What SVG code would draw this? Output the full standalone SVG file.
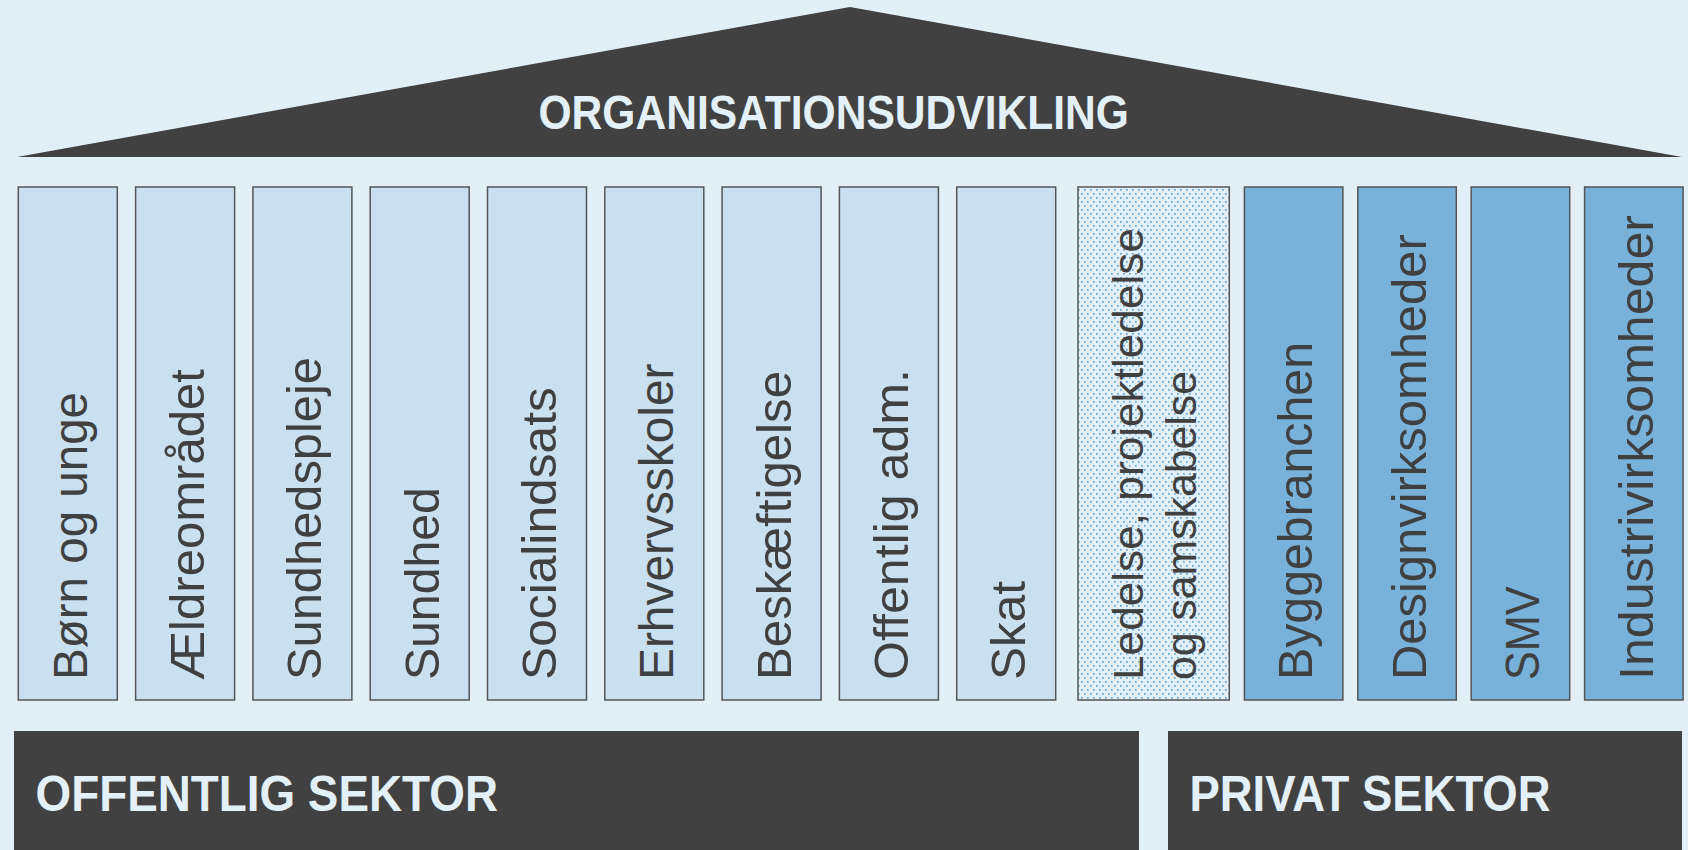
<svg xmlns="http://www.w3.org/2000/svg" width="1688" height="850" viewBox="0 0 1688 850">
<defs>
<pattern id="dots" width="6" height="8" patternUnits="userSpaceOnUse">
<rect width="6" height="8" fill="#e3eff7"/>
<rect x="1" y="1" width="1.7" height="1.7" fill="#5fa8dc"/>
<rect x="4" y="5" width="1.7" height="1.7" fill="#5fa8dc"/>
</pattern>
</defs>
<style>
.bg{fill:#e3eff7}
.dark{fill:#414141}
.pub{fill:#c9e0f0;stroke:#555;stroke-width:1.5}
.priv{fill:#78b2db;stroke:#555;stroke-width:1.5}
.dot{fill:url(#dots);stroke:#555;stroke-width:1.5}
.lbl{font-family:"Liberation Sans",Arial,sans-serif;font-size:48px;fill:#404040}
.lbl2{font-family:"Liberation Sans",Arial,sans-serif;font-size:42px;fill:#404040}
.head{font-family:"Liberation Sans",Arial,sans-serif;font-weight:bold;fill:#e4f0f8}
</style>
<rect class="bg" x="0" y="0" width="1688" height="850"/>
<g id="roof">
<polygon class="dark" points="850,7 1682,157 17,157"/>
<text class="head" x="538.4" y="129.3" font-size="48" textLength="590.6" lengthAdjust="spacingAndGlyphs">ORGANISATIONSUDVIKLING</text>
</g>
<g id="col-born">
<rect class="pub" x="18.3" y="187" width="99" height="513"/>
<text class="lbl" transform="translate(86.8,680) rotate(-90)" textLength="288" lengthAdjust="spacingAndGlyphs">Børn og unge</text>
</g>
<g id="col-aeldre">
<rect class="pub" x="135.6" y="187" width="99" height="513"/>
<text class="lbl" transform="translate(204.1,680) rotate(-90)" textLength="311" lengthAdjust="spacingAndGlyphs">Ældreområdet</text>
</g>
<g id="col-sundhedspleje">
<rect class="pub" x="252.9" y="187" width="99" height="513"/>
<text class="lbl" transform="translate(321.4,680) rotate(-90)" textLength="323" lengthAdjust="spacingAndGlyphs">Sundhedspleje</text>
</g>
<g id="col-sundhed">
<rect class="pub" x="370.2" y="187" width="99" height="513"/>
<text class="lbl" transform="translate(438.7,680) rotate(-90)" textLength="192.7" lengthAdjust="spacingAndGlyphs">Sundhed</text>
</g>
<g id="col-socialindsats">
<rect class="pub" x="487.5" y="187" width="99" height="513"/>
<text class="lbl" transform="translate(556,680) rotate(-90)" textLength="292.8" lengthAdjust="spacingAndGlyphs">Socialindsats</text>
</g>
<g id="col-erhvervsskoler">
<rect class="pub" x="604.8" y="187" width="99" height="513"/>
<text class="lbl" transform="translate(673.3,680) rotate(-90)" textLength="316.5" lengthAdjust="spacingAndGlyphs">Erhvervsskoler</text>
</g>
<g id="col-beskaeftigelse">
<rect class="pub" x="722.1" y="187" width="99" height="513"/>
<text class="lbl" transform="translate(790.6,680) rotate(-90)" textLength="309" lengthAdjust="spacingAndGlyphs">Beskæftigelse</text>
</g>
<g id="col-offentlig-adm">
<rect class="pub" x="839.4" y="187" width="99" height="513"/>
<text class="lbl" transform="translate(907.9,680) rotate(-90)" textLength="311" lengthAdjust="spacingAndGlyphs">Offentlig adm.</text>
</g>
<g id="col-skat">
<rect class="pub" x="956.7" y="187" width="99" height="513"/>
<text class="lbl" transform="translate(1025.2,680) rotate(-90)" textLength="99" lengthAdjust="spacingAndGlyphs">Skat</text>
</g>
<g id="col-ledelse">
<rect class="dot" x="1078" y="187" width="151.3" height="513"/>
<text class="lbl2" transform="translate(1143.3,680) rotate(-90)" textLength="452" lengthAdjust="spacingAndGlyphs">Ledelse, projektledelse</text>
<text class="lbl2" transform="translate(1196,680) rotate(-90)" textLength="309" lengthAdjust="spacingAndGlyphs">og samskabelse</text>
</g>
<g id="col-byggebranchen">
<rect class="priv" x="1244.4" y="187" width="98.5" height="513"/>
<text class="lbl" transform="translate(1312.4,680) rotate(-90)" textLength="338" lengthAdjust="spacingAndGlyphs">Byggebranchen</text>
</g>
<g id="col-design">
<rect class="priv" x="1357.8" y="187" width="98.5" height="513"/>
<text class="lbl" transform="translate(1425.8,680) rotate(-90)" textLength="445.7" lengthAdjust="spacingAndGlyphs">Designvirksomheder</text>
</g>
<g id="col-smv">
<rect class="priv" x="1471.2" y="187" width="98.5" height="513"/>
<text class="lbl" transform="translate(1539.2,680) rotate(-90)" textLength="93.7" lengthAdjust="spacingAndGlyphs">SMV</text>
</g>
<g id="col-industri">
<rect class="priv" x="1584.6" y="187" width="98.5" height="513"/>
<text class="lbl" transform="translate(1652.6,680) rotate(-90)" textLength="465" lengthAdjust="spacingAndGlyphs">Industrivirksomheder</text>
</g>
<g id="base-offentlig">
<rect class="dark" x="14" y="731" width="1125" height="119"/>
<text class="head" x="35.5" y="810.7" font-size="50" textLength="462.5" lengthAdjust="spacingAndGlyphs">OFFENTLIG SEKTOR</text>
</g>
<g id="base-privat">
<rect class="dark" x="1168" y="731" width="514" height="119"/>
<text class="head" x="1189.5" y="810.7" font-size="50" textLength="361" lengthAdjust="spacingAndGlyphs">PRIVAT SEKTOR</text>
</g>
<g id="connectors"/>
</svg>
